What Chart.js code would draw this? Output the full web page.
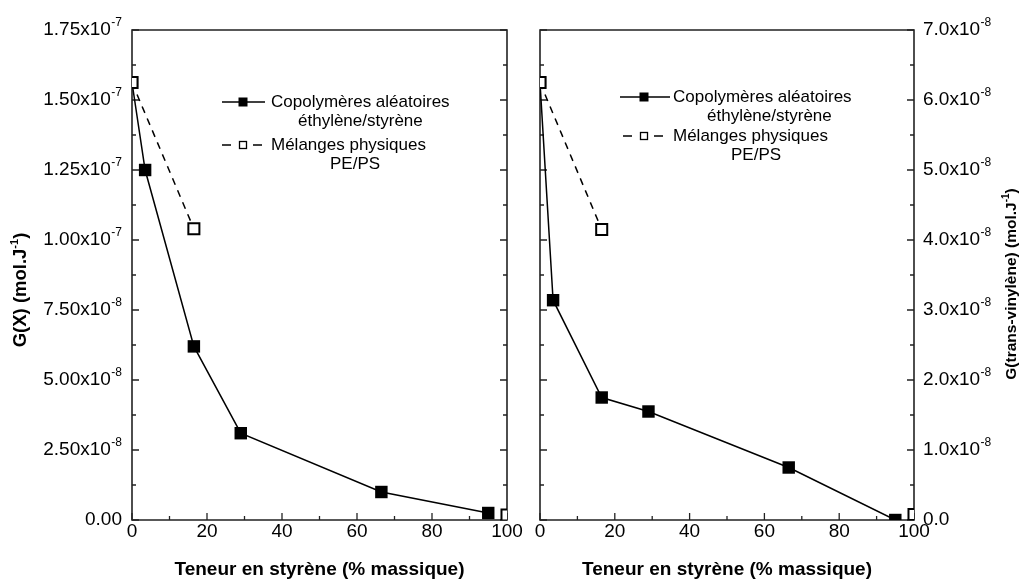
<!DOCTYPE html>
<html><head><meta charset="utf-8">
<script src="https://cdn.jsdelivr.net/npm/chart.js@4/dist/chart.umd.min.js"></script>
<style>
html,body{margin:0;padding:0;background:#fff;}
#wrap{position:relative;width:1025px;height:582px;overflow:hidden;}
canvas{position:absolute;top:0;}
#c1{left:0}
#c2{left:520px}
</style></head><body>
<div id="wrap"><canvas id="c1" width="545" height="582"></canvas><canvas id="c2" width="505" height="582"></canvas></div>
<script>
// ---- data ----
const copoStyrene = [0, 3.5, 16.5, 29, 66.5, 95];
const copoGX = [1.5625e-7, 1.25e-7, 6.2e-8, 3.1e-8, 1.0e-8, 2.5e-9];
const copoGTV = [6.25e-8, 3.14e-8, 1.75e-8, 1.55e-8, 7.5e-9, 0];
const blendStyrene = [0, 16.5, 100];
const blendGX = [1.5625e-7, 1.04e-7, 1.8e-9];
const blendGTV = [6.25e-8, 4.15e-8, 8e-10];

const xTickValues = [0, 20, 40, 60, 80, 100];
const gxTickValues = [0, 2.5e-8, 5e-8, 7.5e-8, 1e-7, 1.25e-7, 1.5e-7, 1.75e-7];
const gxTickMant = ['0.00', '2.50x10', '5.00x10', '7.50x10', '1.00x10', '1.25x10', '1.50x10', '1.75x10'];
const gxTickExp = ['', '-8', '-8', '-8', '-7', '-7', '-7', '-7'];
const gtvTickValues = [0, 1e-8, 2e-8, 3e-8, 4e-8, 5e-8, 6e-8, 7e-8];
const gtvTickMant = ['0.0', '1.0x10', '2.0x10', '3.0x10', '4.0x10', '5.0x10', '6.0x10', '7.0x10'];
const gtvTickExp = ['', '-8', '-8', '-8', '-8', '-8', '-8', '-8'];

const legendCopo = ['Copolymères aléatoires', 'éthylène/styrène'];
const legendBlend = ['Mélanges physiques', 'PE/PS'];
const xTitle = 'Teneur en styrène (% massique)';

const FONT = '"Liberation Sans", Arial, sans-serif';

function pts(xs, ys) { return xs.map((x, i) => ({x: x, y: ys[i]})); }

function drawSup(ctx, parts, x, y, align) {
  let total = 0;
  parts.forEach(p => { ctx.font = p.font; p.w = ctx.measureText(p.t).width; total += p.w + (p.gap || 0); });
  let cx = align === 'right' ? x - total : align === 'center' ? x - total / 2 : x;
  ctx.textAlign = 'left'; ctx.textBaseline = 'middle';
  parts.forEach(p => { ctx.font = p.font; cx += (p.gap || 0); ctx.fillText(p.t, cx, y + (p.dy || 0)); cx += p.w; });
}

function framePlugin(cfg) {
  return {
    id: 'frame' + cfg.side,
    beforeDatasetsDraw(chart) {
      const ctx = chart.ctx, a = chart.chartArea, xs = chart.scales.x, ys = chart.scales.y;
      ctx.save();
      ctx.strokeStyle = '#222'; ctx.lineWidth = 1.6; ctx.lineCap = 'butt';
      ctx.beginPath();
      ctx.moveTo(a.left, a.top); ctx.lineTo(a.right, a.top); ctx.lineTo(a.right, a.bottom);
      ctx.lineTo(a.left, a.bottom); ctx.closePath(); ctx.stroke();
      ctx.lineWidth = 1.3;
      for (let i = 0; i < xTickValues.length; i++) {
        const px = xs.getPixelForValue(xTickValues[i]);
        ctx.beginPath(); ctx.moveTo(px, a.bottom); ctx.lineTo(px, a.bottom - 7); ctx.stroke();
        if (i < xTickValues.length - 1) {
          const pm = xs.getPixelForValue((xTickValues[i] + xTickValues[i + 1]) / 2);
          ctx.beginPath(); ctx.moveTo(pm, a.bottom); ctx.lineTo(pm, a.bottom - 4); ctx.stroke();
        }
      }
      const tv = cfg.yTicks;
      for (let i = 0; i < tv.length; i++) {
        const py = ys.getPixelForValue(tv[i]);
        ctx.beginPath(); ctx.moveTo(a.left, py); ctx.lineTo(a.left + 7, py);
        ctx.moveTo(a.right, py); ctx.lineTo(a.right - 7, py); ctx.stroke();
        if (i < tv.length - 1) {
          const pm = ys.getPixelForValue((tv[i] + tv[i + 1]) / 2);
          ctx.beginPath(); ctx.moveTo(a.left, pm); ctx.lineTo(a.left + 4, pm);
          ctx.moveTo(a.right, pm); ctx.lineTo(a.right - 4, pm); ctx.stroke();
        }
      }
      ctx.restore();
    },
    afterDatasetsDraw(chart) {
      const ctx = chart.ctx, a = chart.chartArea, xs = chart.scales.x, ys = chart.scales.y;
      ctx.save();
      ctx.fillStyle = '#000';
      const tickFont = '19px ' + FONT, supFont = '12px ' + FONT;
      ctx.font = tickFont; ctx.textAlign = 'center'; ctx.textBaseline = 'middle';
      xTickValues.forEach(v => ctx.fillText(String(v), xs.getPixelForValue(v), 532));
      ctx.font = 'bold 19px ' + FONT;
      ctx.fillText(xTitle, (a.left + a.right) / 2, 570);
      cfg.yTicks.forEach((v, i) => {
        const py = ys.getPixelForValue(v);
        const parts = [{t: cfg.mant[i], font: tickFont}];
        if (cfg.exp[i]) parts.push({t: cfg.exp[i], font: supFont, dy: -7, gap: 0.5});
        if (cfg.side === 'left') drawSup(ctx, parts, a.left - 10, py, 'right');
        else drawSup(ctx, parts, a.right + 9, py, 'left');
      });
      ctx.save();
      ctx.translate(cfg.titleX, cfg.titleY);
      ctx.rotate(-Math.PI / 2);
      const tf = 'bold ' + cfg.titleSize + 'px ' + FONT, sf = 'bold ' + Math.round(cfg.titleSize * 0.62) + 'px ' + FONT;
      drawSup(ctx, [{t: cfg.title, font: tf}, {t: '-1', font: sf, dy: -6}, {t: ')', font: tf}], 0, 0, 'center');
      ctx.restore();
      // legend
      const L = cfg.legend;
      ctx.strokeStyle = '#000'; ctx.lineWidth = 1.5;
      ctx.beginPath(); ctx.moveTo(L.x0, L.y1); ctx.lineTo(L.x1, L.y1); ctx.stroke();
      ctx.fillRect(L.sq - 4.5, L.y1 - 4.5, 9, 9);
      ctx.beginPath();
      ctx.moveTo(L.sq - 21, L.y3); ctx.lineTo(L.sq - 12, L.y3);
      ctx.moveTo(L.sq + 10, L.y3); ctx.lineTo(L.sq + 19, L.y3);
      ctx.stroke();
      ctx.fillStyle = '#fff'; ctx.fillRect(L.sq - 3.5, L.y3 - 3.5, 7, 7);
      ctx.lineWidth = 1.3; ctx.strokeRect(L.sq - 3.5, L.y3 - 3.5, 7, 7);
      ctx.fillStyle = '#000';
      ctx.font = '17px ' + FONT; ctx.textAlign = 'left'; ctx.textBaseline = 'middle';
      ctx.fillText(legendCopo[0], L.tx, L.y1);
      ctx.fillText(legendCopo[1], L.tx2, L.y2);
      ctx.fillText(legendBlend[0], L.tx, L.y3);
      ctx.fillText(legendBlend[1], L.tx4, L.y4);
      ctx.restore();
    }
  };
}

function makeChart(id, cfg) {
  return new Chart(document.getElementById(id), {
    type: 'line',
    data: {
      datasets: [
        {
          label: legendBlend.join(' '),
          data: pts(blendStyrene, cfg.blend),
          borderColor: '#000', borderWidth: 1.5, borderDash: [7, 6],
          pointStyle: 'rect', pointRadius: 7.8, pointBorderWidth: 2,
          pointBackgroundColor: '#fff', pointBorderColor: '#000',
          segment: { borderColor: c => c.p1DataIndex === 2 ? 'rgba(0,0,0,0)' : '#000' },
          clip: 0
        },
        {
          label: legendCopo.join(' '),
          data: pts(copoStyrene, cfg.copo),
          borderColor: '#000', borderWidth: 1.5,
          pointStyle: 'rect', pointRadius: 8.8, pointBorderWidth: 0,
          pointBackgroundColor: '#000', pointBorderColor: '#000',
          clip: 0
        }
      ]
    },
    options: {
      responsive: false, animation: false, devicePixelRatio: 1,
      layout: { padding: cfg.pad },
      plugins: { legend: { display: false }, tooltip: { enabled: false } },
      elements: { line: { tension: 0 } },
      scales: {
        x: { type: 'linear', min: 0, max: 100, display: false },
        y: { type: 'linear', min: 0, max: cfg.ymax, display: false }
      }
    },
    plugins: [framePlugin(cfg)]
  });
}

makeChart('c1', {
  side: 'left', pad: {left: 132, right: 38, top: 30, bottom: 62}, ymax: 1.75e-7,
  copo: copoGX, blend: blendGX,
  yTicks: gxTickValues, mant: gxTickMant, exp: gxTickExp,
  title: 'G(X) (mol.J', titleX: 21, titleY: 290, titleSize: 18.5,
  legend: {x0: 222, x1: 265, sq: 243, y1: 102, y2: 121, y3: 145, y4: 164, tx: 271, tx2: 298, tx4: 330}
});
makeChart('c2', {
  side: 'right', pad: {left: 20, right: 111, top: 30, bottom: 62}, ymax: 7e-8,
  copo: copoGTV, blend: blendGTV,
  yTicks: gtvTickValues, mant: gtvTickMant, exp: gtvTickExp,
  title: 'G(trans-vinylène) (mol.J', titleX: 492, titleY: 284, titleSize: 15.5,
  legend: {x0: 100, x1: 150, sq: 124, y1: 97, y2: 116, y3: 136, y4: 155, tx: 153, tx2: 187, tx4: 211}
});
</script>
</body></html>
